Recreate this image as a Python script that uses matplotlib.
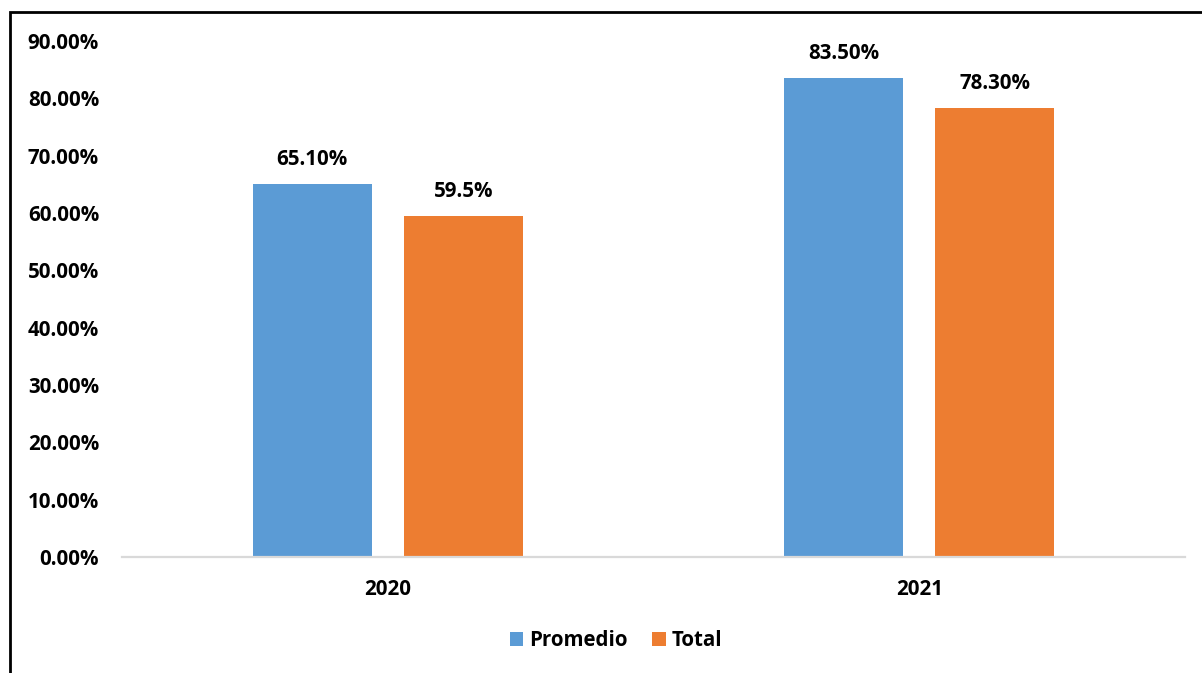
import matplotlib
matplotlib.use('Agg')
import matplotlib.pyplot as plt
from matplotlib.patches import Rectangle
import numpy as np

# data
years = ['2020', '2021']
promedio = [65.10, 83.50]
total = [59.5, 78.30]
promedio_labels = ['65.10%', '83.50%']
total_labels = ['59.5%', '78.30%']
yticks = [0, 10, 20, 30, 40, 50, 60, 70, 80, 90]

plt.rcParams['font.family'] = ['Open Sans', 'DejaVu Sans']
plt.rcParams['font.weight'] = 'bold'
fs = 14.8

fig = plt.figure(figsize=(12.02, 6.73), dpi=100)
ax = fig.add_axes([122 / 1202, 1 - 557 / 673, (1185 - 122) / 1202, (557 - 41) / 673])

x = np.arange(len(years))
w = 0.224
off = 0.142
b1 = ax.bar(x - off, promedio, w, color='#5b9bd5', label='Promedio')
b2 = ax.bar(x + off, total, w, color='#ed7d31', label='Total')

for bars, labels in ((b1, promedio_labels), (b2, total_labels)):
    for rect, lab in zip(bars, labels):
        ax.annotate(lab, (rect.get_x() + rect.get_width() / 2, rect.get_height()),
                    xytext=(0, 14), textcoords='offset pixels',
                    ha='center', va='bottom', fontsize=fs, fontweight='bold')

ax.set_xlim(-0.5, 1.5)
ax.set_ylim(0, 90)
ax.set_yticks(yticks)
ax.set_yticklabels(['%.2f%%' % v for v in yticks])
ax.set_xticks(x)
ax.set_xticklabels(years)
ax.tick_params(axis='y', length=0, pad=16.5, labelsize=fs)
ax.tick_params(axis='x', length=0, pad=16, labelsize=fs)
for lab in ax.get_xticklabels() + ax.get_yticklabels():
    lab.set_fontweight('bold')

for s in ['top', 'right', 'left']:
    ax.spines[s].set_visible(False)
ax.spines['bottom'].set_color('#d9d9d9')
ax.spines['bottom'].set_linewidth(1.6)

leg = fig.legend(loc='center', bbox_to_anchor=(616 / 1202, 1 - 641 / 673), ncol=2,
                 frameon=False, fontsize=fs, handlelength=0.65, handleheight=0.65,
                 handletextpad=0.3, columnspacing=1.2)
for t in leg.get_texts():
    t.set_fontweight('bold')

# outer border of the chart (left and top edges visible)
fig.patches.append(Rectangle((10 / 1202, -0.05), 1.2, 1 - 11.5 / 673 + 0.05,
                             transform=fig.transFigure, fill=False,
                             edgecolor='black', linewidth=2, zorder=10))

fig.savefig('out.png', dpi=100)
